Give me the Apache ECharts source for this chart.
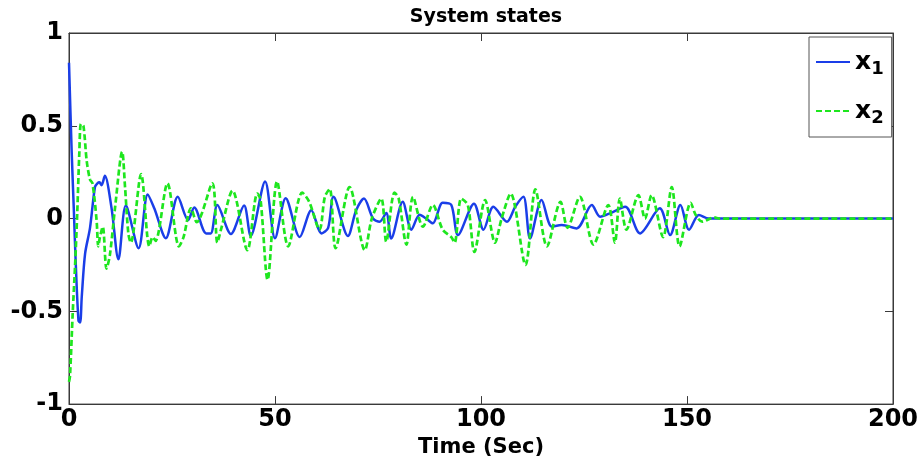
<!DOCTYPE html>
<html>
<head>
<meta charset="utf-8">
<script src="https://cdn.jsdelivr.net/npm/echarts@6/dist/echarts.min.js"></script>
<style>html,body{margin:0;padding:0;background:#fff}#c{width:923px;height:463px}</style>
</head>
<body>
<div id="c"></div>
<script>
// Time stamps (s) and values for state x1
var t1 = [0,0.65,1.2,1.6,2.3,2.7,3.1,3.9,5.1,6.3,6.9,7.4,7.9,8.7,10.3,12.0,13.8,16.9,19.1,20.7,23.5,26.4,28.9,30.4,33.3,34.4,36.0,39.3,42.5,44.1,47.6,50.0,52.6,56.0,58.8,61.3,62.9,64.2,67.7,69.7,71.6,73.8,75.4,77.0,78.2,81.0,83.1,85.1,86.7,88.3,90.7,92.8,94.4,98.3,100.6,103.0,106.3,108.3,110.3,111.9,114.7,117.2,119.6,123.2,126.9,128.9,131.3,135.0,138.6,143.4,145.9,148.4,150.5,152.9,155.3,160,200];
var x1 = [0.84,0.36,0.03,-0.22,-0.55,-0.56,-0.42,-0.19,-0.05,0.17,0.19,0.195,0.18,0.23,0.06,-0.22,0.07,-0.16,0.13,0.055,-0.106,0.117,-0.008,0.06,-0.08,-0.08,0.073,-0.083,0.07,-0.094,0.2,-0.106,0.11,-0.1,0.045,-0.08,-0.05,0.117,-0.094,0.045,0.108,0.0,-0.017,0.03,-0.107,0.09,-0.06,0.02,0.0,-0.026,0.085,0.073,-0.089,0.08,-0.06,0.063,-0.017,0.063,0.117,-0.107,0.1,-0.044,-0.035,-0.053,0.073,0.01,0.028,0.063,-0.08,0.055,-0.089,0.073,-0.06,0.019,0.0,0,0];
// Time stamps (s) and values for state x2
var t2 = [0,0.24,0.9,1.5,2.0,2.5,2.9,3.5,4.3,5.1,5.7,6.7,7.1,7.5,8.2,9.1,9.9,11.2,12.9,13.6,14.4,15.0,17.5,19.5,20.3,21.0,23.9,26.7,27.8,29.6,31.0,34.8,36.0,37.0,39.7,43.3,45.7,46.5,48.2,50.5,53.2,56.6,58.3,60.8,62.1,63.3,64.7,68.1,71.8,73.5,75.8,77.0,79.0,80.0,81.9,83.5,85.9,88.3,90.7,92.8,93.6,95.2,96.8,98.4,101.0,103.4,105.0,107.2,110.8,113.2,116.0,119.3,121.0,124.0,127.3,130.9,132.5,133.7,135.3,138.2,139.8,141.4,144.2,146.3,148.2,150.9,152.1,153.7,156.5,158,200];
var x2 = [-0.88,-0.85,-0.51,-0.24,0.03,0.35,0.51,0.5,0.31,0.21,0.19,-0.01,-0.15,-0.1,-0.044,-0.27,-0.2,0.063,0.36,0.17,-0.08,-0.13,0.24,-0.15,-0.1,-0.12,0.19,-0.15,-0.1,0.055,-0.02,0.19,-0.13,-0.05,0.15,-0.17,0.135,0.1,-0.33,0.2,-0.15,0.14,0.09,-0.06,0.117,0.16,-0.16,0.17,-0.17,0.0,0.108,-0.125,0.14,0.11,-0.14,0.117,-0.044,0.073,-0.06,-0.1,-0.13,0.108,0.073,-0.18,0.1,-0.13,0.0,0.135,-0.25,0.157,-0.15,0.09,-0.05,0.117,-0.14,0.073,-0.13,0.108,-0.06,0.126,0.0,0.126,-0.1,0.17,-0.15,0.085,0.02,-0.017,0.006,0,0];
var xTicks = [0,50,100,150,200];
var yTicks = [-1,-0.5,0,0.5,1];

function pairs(t, v){ return t.map(function(x,i){ return [x, v[i]]; }); }

var axisCol = '#3a3a3a';
var labelFont = {fontFamily:'DejaVu Sans', fontWeight:'bold', fontSize:24, color:'#000'};
var chart = echarts.init(document.getElementById('c'), null, {renderer:'canvas'});
chart.setOption({
  animation:false,
  backgroundColor:'#fff',
  title:{text:'System states', left:481, top:3, textAlign:'center',
    textStyle:{fontFamily:'DejaVu Sans', fontWeight:'bold', fontSize:19, color:'#000'}},
  grid:{left:69, right:30, top:33, bottom:58, show:true, borderColor:axisCol, borderWidth:1},
  legend:{
    orient:'vertical', left:809, top:37,
    backgroundColor:'#fff', borderColor:'#555', borderWidth:1, borderRadius:0,
    padding:[9,8,10,6], itemGap:17, itemWidth:34, itemHeight:14,
    itemStyle:{opacity:0},
    data:['x1','x2'],
    formatter:function(n){ return '{b|x}{s|' + n.slice(1) + '}'; },
    textStyle:{rich:{
      b:{fontFamily:'DejaVu Sans', fontWeight:'bold', fontSize:25, color:'#000', lineHeight:30},
      s:{fontFamily:'DejaVu Sans', fontWeight:'bold', fontSize:18, color:'#000', padding:[14,0,0,0], lineHeight:30}
    }}
  },
  xAxis:[{
    type:'value', min:0, max:200, interval:50, position:'bottom',
    name:'Time (Sec)', nameLocation:'middle', nameGap:29,
    nameTextStyle:{fontFamily:'DejaVu Sans', fontWeight:'bold', fontSize:21, color:'#000'},
    axisLine:{show:true, onZero:false, lineStyle:{color:axisCol}},
    axisTick:{show:true, inside:true, length:8, lineStyle:{color:axisCol}},
    axisLabel:Object.assign({margin:4}, labelFont),
    splitLine:{show:false}
  },{
    type:'value', min:0, max:200, interval:50, position:'top',
    axisLine:{show:true, onZero:false, lineStyle:{color:axisCol}},
    axisTick:{show:true, inside:true, length:8, lineStyle:{color:axisCol}},
    axisLabel:{show:false}, splitLine:{show:false}
  }],
  yAxis:[{
    type:'value', min:-1, max:1, interval:0.5, position:'left',
    axisLine:{show:true, onZero:false, lineStyle:{color:axisCol}},
    axisTick:{show:true, inside:true, length:8, lineStyle:{color:axisCol}},
    axisLabel:Object.assign({margin:6}, labelFont),
    splitLine:{show:false}
  },{
    type:'value', min:-1, max:1, interval:0.5, position:'right',
    axisLine:{show:true, onZero:false, lineStyle:{color:axisCol}},
    axisTick:{show:true, inside:true, length:8, lineStyle:{color:axisCol}},
    axisLabel:{show:false}, splitLine:{show:false}
  }],
  series:[{
    name:'x1', type:'line', data:pairs(t1,x1), symbol:'none', smooth:0.3,
    lineStyle:{color:'#1a3ee8', width:2.5}, itemStyle:{color:'#1a3ee8'}, z:2
  },{
    name:'x2', type:'line', data:pairs(t2,x2), symbol:'none', smooth:0.3,
    lineStyle:{color:'#1ee61e', width:2.7, type:[6,3]}, itemStyle:{color:'#1ee61e'}, z:3
  }]
});
</script>
</body>
</html>
